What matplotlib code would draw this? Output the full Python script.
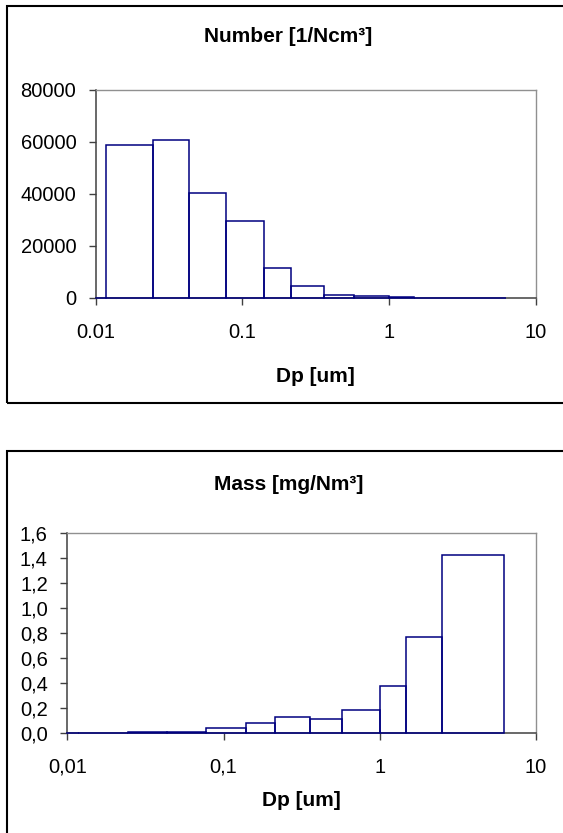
import numpy as np
import matplotlib
matplotlib.use("Agg")
import matplotlib.pyplot as plt
from matplotlib.patches import Rectangle
from matplotlib.ticker import FixedLocator, FixedFormatter, NullLocator

plt.rcParams['font.family'] = ['Liberation Sans', 'DejaVu Sans']

# Bin edges (particle diameter, um)
edges = [0.0117, 0.0244, 0.0433, 0.0771, 0.140, 0.215, 0.360, 0.574, 1.0, 1.48, 2.50, 6.25]
# Number concentration [1/Ncm3]
number = [58900, 60700, 40300, 29500, 11300, 4600, 920, 540, 150, 60, 20]
# Mass concentration [mg/Nm3]
mass = [0.001, 0.002, 0.005, 0.040, 0.078, 0.128, 0.107, 0.179, 0.371, 0.766, 1.424]

x_ticks = [0.01, 0.1, 1, 10]
x_labels_top = ["0.01", "0.1", "1", "10"]
x_labels_bot = ["0,01", "0,1", "1", "10"]
y_ticks_top = [0, 20000, 40000, 60000, 80000]
y_labels_top = ["0", "20000", "40000", "60000", "80000"]
y_ticks_bot = [0.0, 0.2, 0.4, 0.6, 0.8, 1.0, 1.2, 1.4, 1.6]
y_labels_bot = ["0,0", "0,2", "0,4", "0,6", "0,8", "1,0", "1,2", "1,4", "1,6"]

W, H = 563, 833
fig = plt.figure(figsize=(W / 100, H / 100), dpi=100)

BAR = '#000080'
FS = 14.5
FSB = 15


def px_axes(l, t, r, b):
    return fig.add_axes([l / W, 1 - b / H, (r - l) / W, (b - t) / H])


def style(ax, values, yt, yl, xl, ymax):
    e = np.array(edges)
    ax.bar(e[:-1], values, width=np.diff(e), align='edge', fill=False,
           edgecolor=BAR, linewidth=1.1, zorder=3, clip_on=False)
    ax.plot([0.01, e[0]], [0, 0], color=BAR, lw=1.1, zorder=3, clip_on=False)
    ax.set_xscale('log')
    ax.set_xlim(0.01, 10)
    ax.set_ylim(0, ymax)
    ax.xaxis.set_major_locator(FixedLocator(x_ticks))
    ax.xaxis.set_major_formatter(FixedFormatter(xl))
    ax.xaxis.set_minor_locator(NullLocator())
    ax.yaxis.set_major_locator(FixedLocator(yt))
    ax.yaxis.set_major_formatter(FixedFormatter(yl))
    ax.tick_params(axis='both', direction='out', length=5, width=1.0,
                   color='#404040', labelsize=FS, labelcolor='black')
    ax.tick_params(axis='x', pad=13)
    ax.tick_params(axis='y', pad=9)
    for s in ['left', 'bottom']:
        ax.spines[s].set_color('#404040')
        ax.spines[s].set_linewidth(1.1)
    for s in ['top', 'right']:
        ax.spines[s].set_color('#909090')
        ax.spines[s].set_linewidth(1.0)


# Frames (chart areas)
fig.add_artist(Rectangle((7.3 / W, 1 - 403 / H), (570 - 7.3) / W, (403 - 6) / H,
                         transform=fig.transFigure, fill=False, ec='black', lw=1.5))
fig.add_artist(Rectangle((7.3 / W, -0.05), (570 - 7.3) / W, (1 - 451 / H) + 0.05,
                         transform=fig.transFigure, fill=False, ec='black', lw=1.5))

ax1 = px_axes(95.7, 90, 536, 297.7)
style(ax1, number, y_ticks_top, y_labels_top, x_labels_top, 80000)

ax2 = px_axes(67.3, 532.7, 536, 732.7)
style(ax2, mass, y_ticks_bot, y_labels_bot, x_labels_bot, 1.6)

fig.text(288.5 / W, 1 - 36 / H, "Number [1/Ncm³]", ha='center', va='center',
         fontsize=FSB, fontweight='bold')
fig.text((95.7 + 536) / 2 / W, 1 - 377 / H, "Dp [um]", ha='center', va='center',
         fontsize=FSB, fontweight='bold')
fig.text(288.5 / W, 1 - 484 / H, "Mass [mg/Nm³]", ha='center', va='center',
         fontsize=FSB, fontweight='bold')
fig.text((67.3 + 536) / 2 / W, 1 - 800 / H, "Dp [um]", ha='center', va='center',
         fontsize=FSB, fontweight='bold')

fig.savefig("out.png", dpi=100)
